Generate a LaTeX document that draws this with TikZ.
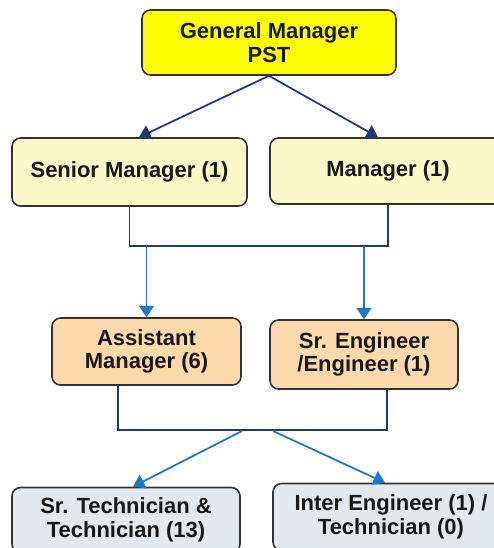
\documentclass[tikz,border=0pt]{standalone}
\usepackage{fontspec}
\setmainfont{Liberation Sans}
\usepackage{tikz}
\usetikzlibrary{arrows.meta,positioning,calc}
\definecolor{gmyellow}{RGB}{255,255,0}
\definecolor{mgryellow}{RGB}{250,250,200}
\definecolor{engpeach}{RGB}{252,217,170}
\definecolor{techgray}{RGB}{227,232,236}
\definecolor{linknavy}{RGB}{31,58,122}
\definecolor{linkblue}{RGB}{30,120,200}

\begin{document}
\begin{tikzpicture}[
        post/.style={rectangle, rounded corners=0.17cm, draw=black!80, line width=0.9pt,
            align=center, font=\bfseries\fontsize{12.5}{13.5}\selectfont, text=black!90,
            inner sep=2pt},
        navyarrow/.style={draw=linknavy, line width=1pt, -{Triangle[width=8.5pt,length=6.5pt]}},
        bluearrow/.style={draw=linkblue, line width=1pt, -{Triangle[width=8.5pt,length=6.5pt]}},
        navyline/.style={draw=linknavy, line width=1pt},
    ]
        \useasboundingbox (0,0) rectangle (9.88,-10.96);
        \clip (0,0) rectangle (9.88,-10.96);

        \node[post, fill=gmyellow, minimum width=5.08cm, minimum height=1.3cm] (gm) at (5.38,-0.85) {General Manager\\PST};

        \node[post, fill=mgryellow, minimum width=4.7cm, minimum height=1.36cm] (srmgr) at (2.59,-3.44) {Senior Manager (1)};
        \node[post, fill=mgryellow, minimum width=4.72cm, minimum height=1.32cm] (mgr) at (7.76,-3.42) {Manager (1)};

        \node[post, fill=engpeach, minimum width=3.78cm, minimum height=1.34cm] (astmgr) at (2.93,-7.03) {Assistant\\Manager (6)};
        \node[post, fill=engpeach, minimum width=3.76cm, minimum height=1.38cm] (sreng) at (7.28,-7.09) {Sr. Engineer\\/Engineer (1)};

        \node[post, fill=techgray, minimum width=4.56cm, minimum height=1.3cm] (srtech) at (2.52,-10.4) {Sr. Technician \&\\Technician (13)};
        \node[post, fill=techgray, minimum width=4.72cm, minimum height=1.34cm] (intereng) at (7.82,-10.34) {Inter Engineer (1) /\\Technician (0)};

        \draw[navyarrow] (gm.south) -- ([xshift=0.19cm]srmgr.north);
        \draw[navyarrow] (gm.south) -- ([xshift=-0.2cm]mgr.north);

        \coordinate (bar1) at (0,-4.92);
        \draw[navyline] (srmgr.south) -- (srmgr.south |- bar1) -- (mgr.south |- bar1) -- (mgr.south);
        \draw[bluearrow] (astmgr.north |- bar1) -- (astmgr.north);
        \draw[bluearrow] (sreng.north |- bar1) -- (sreng.north);

        \coordinate (bar2) at (0,-8.6);
        \coordinate (astfoot) at ([xshift=-0.57cm]astmgr.south);
        \coordinate (engfoot) at ([xshift=0.46cm]sreng.south);
        \draw[navyline] (astfoot) -- (astfoot |- bar2) -- (engfoot |- bar2) -- (engfoot);
        \coordinate (techfork1) at (4.84,-8.62);
        \coordinate (techfork2) at (5.46,-8.62);
        \draw[bluearrow] (techfork1) -- ([xshift=0.14cm]srtech.north);
        \draw[bluearrow] (techfork2) -- ([xshift=-0.12cm]intereng.north);
    \end{tikzpicture}
\end{document}
